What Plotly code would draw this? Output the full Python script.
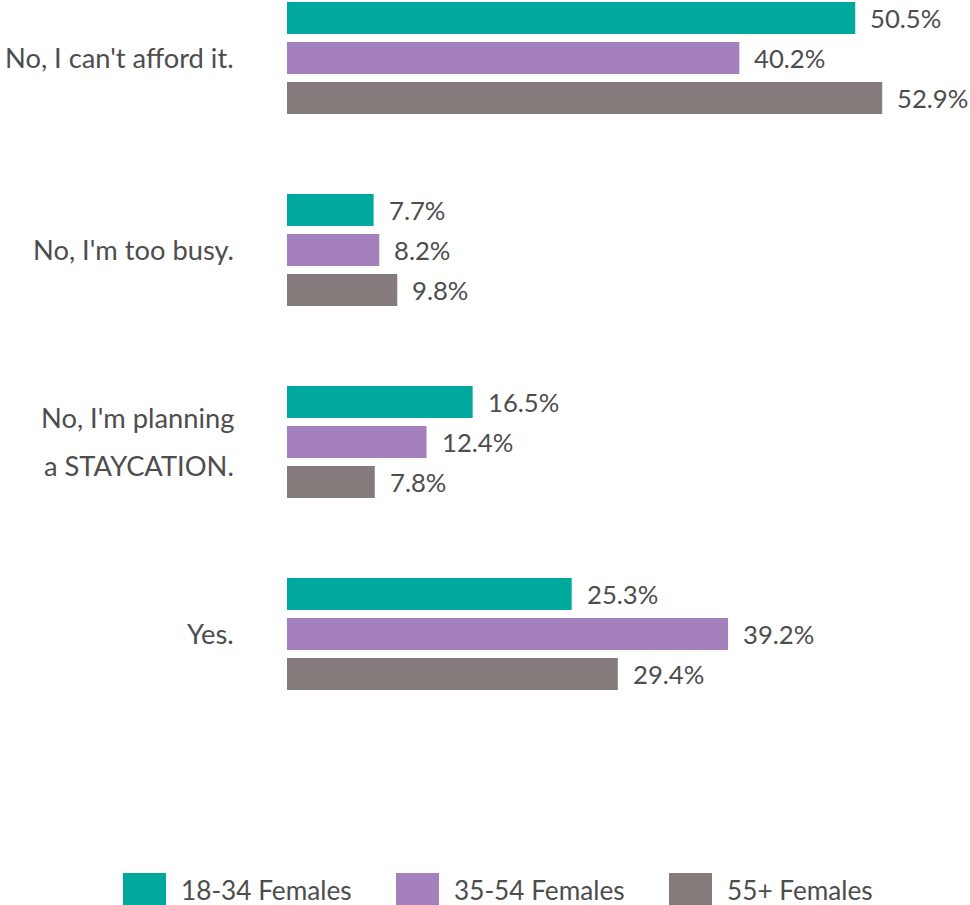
import plotly.graph_objects as go

# Survey answers (top to bottom); multi-line answers are split into lines
categories = ["No, I can't afford it.", "No, I'm too busy.", "No, I'm planning a STAYCATION.", "Yes."]
category_lines = [["No, I can't afford it."], ["No, I'm too busy."], ["No, I'm planning", "a STAYCATION."], ["Yes."]]

series_names = ["18-34 Females", "35-54 Females", "55+ Females"]
series_colors = ["#00A99D", "#A481BD", "#857B7B"]

values_18_34 = [50.5, 7.7, 16.5, 25.3]
values_35_54 = [40.2, 8.2, 12.4, 39.2]
values_55_plus = [52.9, 9.8, 7.8, 29.4]
series_values = [values_18_34, values_35_54, values_55_plus]

FONT = "Lato"
TEXT = "#4d4d4d"
FS_CAT = 27.3
FS_VAL = 25.7
FS_LEG = 26.2

W, H = 970, 905
ML, MT, MB = 287, 0, 137
plot_h = H - MT - MB

fig = go.Figure()
for name, color, vals in zip(series_names, series_colors, series_values):
    fig.add_trace(go.Bar(
        y=categories, x=vals, name=name, orientation="h",
        marker=dict(color=color, line=dict(width=0)),
        showlegend=False, hoverinfo="x+name",
    ))

annotations = []
# value labels to the right of each bar
offsets = [-40, 0, 40]
for vals, dy in zip(series_values, offsets):
    for cat, v in zip(categories, vals):
        annotations.append(dict(
            x=v, y=cat, xref="x", yref="y", text=f"{v:.1f}%",
            xanchor="left", yanchor="middle", xshift=13, yshift=-dy,
            showarrow=False, font=dict(family=FONT, size=FS_VAL, color=TEXT),
        ))

# category labels, right-aligned left of the bars
for cat, lines in zip(categories, category_lines):
    n = len(lines)
    for i, line in enumerate(lines):
        shift = ((n - 1) / 2 - i) * 48
        annotations.append(dict(
            x=0, y=cat, xref="x", yref="y", text=line,
            xanchor="right", yanchor="middle", xshift=-51, yshift=shift,
            showarrow=False, font=dict(family=FONT, size=FS_CAT, color=TEXT),
        ))

# legend row below the chart
shapes = []
legend_left, legend_pitch = 123 - ML, 273
for i, (name, color) in enumerate(zip(series_names, series_colors)):
    x0 = legend_left + i * legend_pitch
    shapes.append(dict(
        type="rect", xref="paper", yref="paper", xsizemode="pixel", ysizemode="pixel",
        xanchor=0, yanchor=0, x0=x0, x1=x0 + 43, y0=-(873 - plot_h), y1=-(916 - plot_h),
        fillcolor=color, line=dict(width=0), layer="above",
    ))
    annotations.append(dict(
        x=0, y=0, xref="paper", yref="paper", text=name,
        xanchor="left", yanchor="middle", xshift=x0 + 56, yshift=-(890 - plot_h),
        showarrow=False, font=dict(family=FONT, size=FS_LEG, color=TEXT),
    ))

fig.update_layout(
    width=W, height=H,
    margin=dict(l=ML, r=0, t=MT, b=MB, pad=0),
    paper_bgcolor="white", plot_bgcolor="white",
    barmode="group", bargap=0.375, bargroupgap=0.2,
    xaxis=dict(range=[0, 60.7], visible=False, fixedrange=True),
    yaxis=dict(range=[3.698, -0.302], showticklabels=False, showgrid=False,
               zeroline=False, showline=False, ticks="", fixedrange=True),
    annotations=annotations, shapes=shapes,
    font=dict(family=FONT, color=TEXT),
)

fig.write_html("out.html")
